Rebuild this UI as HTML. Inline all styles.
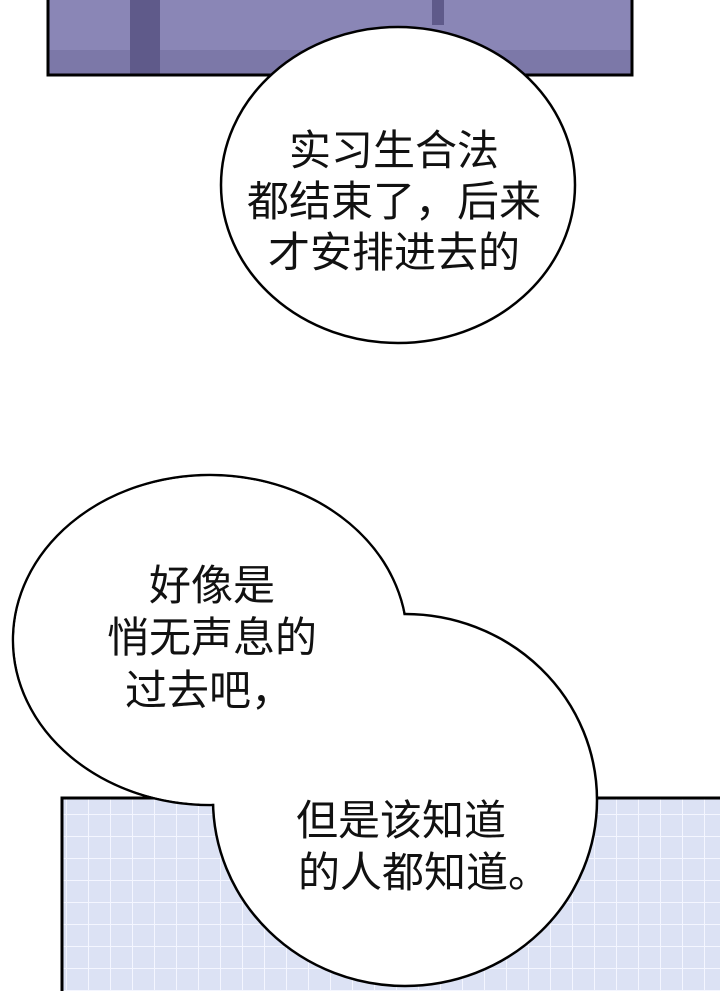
<!DOCTYPE html>
<html><head><meta charset="utf-8"><style>body{margin:0;background:#fff}svg{display:block}</style></head><body>
<svg width="720" height="991" viewBox="0 0 720 991" xmlns="http://www.w3.org/2000/svg" font-family="'Liberation Sans','Noto Sans CJK SC',sans-serif" font-size="42" fill="#111">
<defs>
<pattern id="g" width="22" height="22" patternUnits="userSpaceOnUse"><rect width="22" height="22" fill="#dce2f4"/><path d="M0 0H22M0 0V22" stroke="#f4f6ff" stroke-width="2"/></pattern>
</defs>
<rect x="48" y="-5" width="584" height="80" fill="#8a86b6"/>
<rect x="48" y="50" width="584" height="25" fill="#7c78a8"/>
<rect x="130" y="-5" width="30" height="80" fill="#5f5a8a"/>
<rect x="432" y="-5" width="12" height="30" fill="#5f5a8a"/>
<rect x="48" y="-5" width="584" height="80" fill="none" stroke="#000" stroke-width="3"/>
<rect x="62" y="798" width="670" height="200" fill="url(#g)" stroke="#000" stroke-width="3"/>
<ellipse cx="398" cy="185" rx="177" ry="158" fill="#fff" stroke="#000" stroke-width="2.5"/>
<ellipse cx="210" cy="640" rx="197" ry="165" fill="#fff" stroke="#000" stroke-width="2.5"/>
<ellipse cx="405" cy="800" rx="192" ry="186" fill="#fff" stroke="#000" stroke-width="2.5"/>
<ellipse cx="210" cy="640" rx="195.8" ry="163.8" fill="#fff"/>
<text x="394" y="165" text-anchor="middle">实习生合法</text>
<text x="394" y="216" text-anchor="middle">都结束了，后来</text>
<text x="394" y="267" text-anchor="middle">才安排进去的</text>
<text x="212" y="600" text-anchor="middle">好像是</text>
<text x="212" y="652" text-anchor="middle">悄无声息的</text>
<text x="125" y="705">过去吧，</text>
<text x="296" y="835">但是该知道</text>
<text x="298" y="887">的人都知道。</text>
</svg>
</body></html>
